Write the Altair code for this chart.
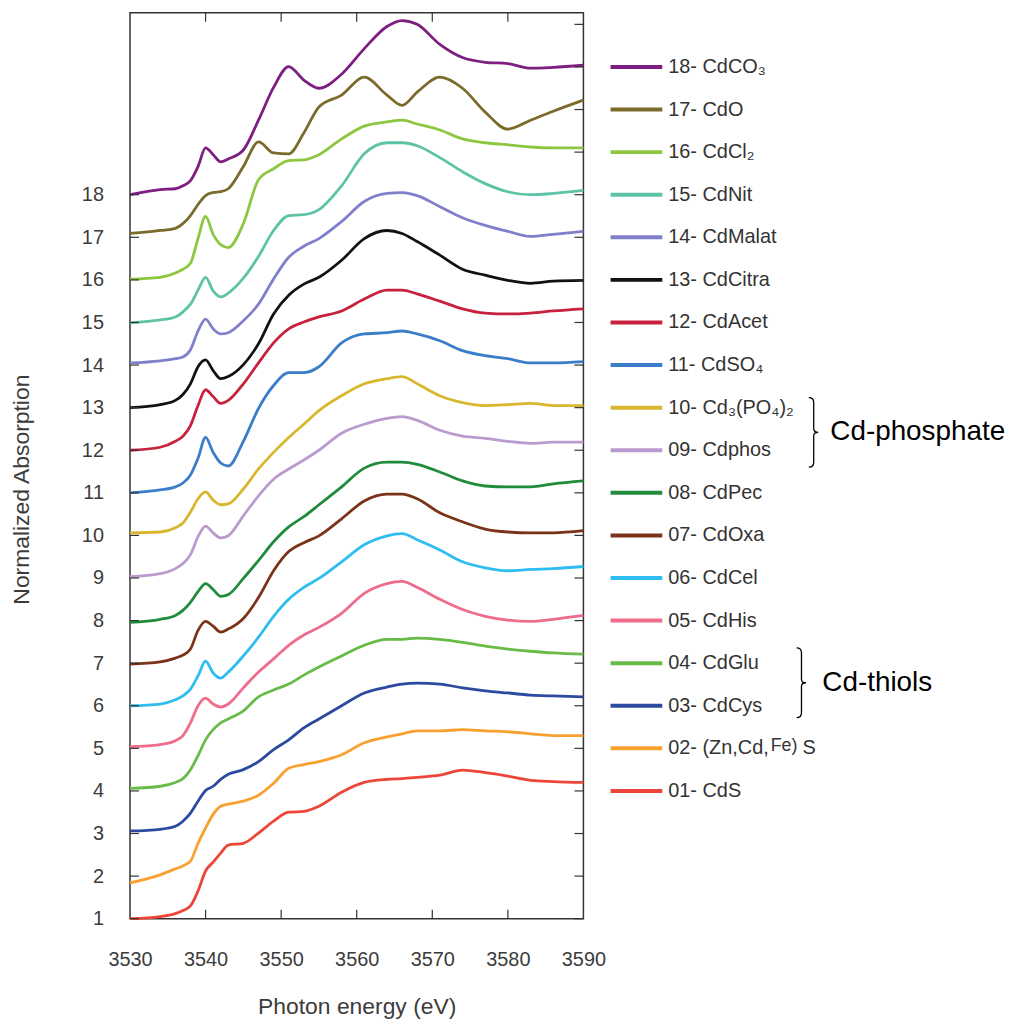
import altair as alt
import pandas as pd

FONT = "Liberation Sans, Arial, Helvetica, sans-serif"

# ---------------- data ----------------
ENERGY = [3530, 3534, 3536, 3537, 3538, 3539, 3540, 3541, 3542, 3543, 3545, 3547, 3549,
          3551, 3553, 3555, 3558, 3561, 3564, 3566, 3568, 3571, 3574, 3577, 3580, 3583, 3586, 3590]

CDS = [1.00, 1.05, 1.12, 1.19, 1.30, 1.65, 2.12, 2.33, 2.54, 2.73, 2.77, 3.01, 3.29, 3.50,
       3.52, 3.64, 3.97, 4.20, 4.27, 4.29, 4.32, 4.37, 4.49, 4.43, 4.35, 4.25, 4.22, 4.20]
ZNCDFES = [1.84, 2.03, 2.17, 2.24, 2.35, 2.77, 3.13, 3.45, 3.64, 3.69, 3.76, 3.90, 4.18, 4.53,
           4.62, 4.69, 4.85, 5.13, 5.27, 5.34, 5.41, 5.41, 5.44, 5.41, 5.39, 5.34, 5.30, 5.30]
CDCYS = [3.06, 3.10, 3.17, 3.29, 3.48, 3.76, 4.01, 4.11, 4.27, 4.39, 4.50, 4.69, 4.97, 5.20,
         5.48, 5.69, 6.00, 6.30, 6.44, 6.51, 6.53, 6.51, 6.42, 6.35, 6.30, 6.25, 6.23, 6.21]
CDGLU = [4.06, 4.11, 4.20, 4.29, 4.50, 4.83, 5.20, 5.44, 5.60, 5.69, 5.88, 6.21, 6.37, 6.51,
         6.72, 6.91, 7.17, 7.42, 7.56, 7.56, 7.59, 7.56, 7.49, 7.40, 7.33, 7.28, 7.24, 7.21]
CDHIS = [5.04, 5.09, 5.18, 5.30, 5.60, 6.00, 6.18, 6.04, 5.97, 6.04, 6.42, 6.79, 7.10, 7.42,
         7.66, 7.84, 8.17, 8.64, 8.87, 8.92, 8.78, 8.50, 8.26, 8.10, 8.01, 7.98, 8.03, 8.12]
CDCEL = [6.00, 6.04, 6.14, 6.23, 6.39, 6.70, 7.05, 6.77, 6.65, 6.79, 7.17, 7.61, 8.10, 8.50,
         8.78, 8.99, 9.38, 9.78, 9.99, 10.04, 9.90, 9.66, 9.38, 9.24, 9.17, 9.20, 9.22, 9.27]
CDOXA = [6.98, 7.03, 7.12, 7.19, 7.33, 7.77, 7.98, 7.87, 7.73, 7.80, 8.05, 8.54, 9.17, 9.62,
         9.83, 9.99, 10.39, 10.81, 10.97, 10.97, 10.86, 10.53, 10.32, 10.15, 10.08, 10.06, 10.06, 10.11]
CDPEC = [7.96, 8.03, 8.12, 8.24, 8.43, 8.68, 8.87, 8.73, 8.57, 8.61, 8.99, 9.41, 9.85, 10.20,
         10.44, 10.72, 11.14, 11.58, 11.72, 11.72, 11.67, 11.49, 11.28, 11.16, 11.14, 11.14, 11.21, 11.28]
CDPHOS = [9.03, 9.10, 9.22, 9.34, 9.55, 9.97, 10.22, 10.06, 9.94, 9.99, 10.46, 10.93, 11.32, 11.56,
          11.77, 12.00, 12.40, 12.61, 12.75, 12.79, 12.70, 12.47, 12.33, 12.28, 12.21, 12.16, 12.19, 12.19]
CD3PO42 = [10.06, 10.08, 10.18, 10.29, 10.55, 10.86, 11.02, 10.83, 10.72, 10.74, 11.09, 11.56, 11.95, 12.30,
           12.61, 12.93, 13.28, 13.56, 13.68, 13.73, 13.56, 13.28, 13.12, 13.05, 13.07, 13.10, 13.05, 13.05]
CDSO4 = [11.00, 11.07, 11.14, 11.23, 11.42, 11.81, 12.30, 11.95, 11.70, 11.63, 12.21, 12.98, 13.52, 13.82,
         13.82, 13.96, 14.52, 14.73, 14.76, 14.80, 14.73, 14.57, 14.34, 14.22, 14.15, 14.05, 14.05, 14.08]
CDACET = [12.00, 12.07, 12.21, 12.33, 12.58, 13.05, 13.42, 13.26, 13.10, 13.17, 13.56, 14.05, 14.52, 14.85,
          15.01, 15.13, 15.27, 15.55, 15.76, 15.76, 15.67, 15.50, 15.32, 15.22, 15.20, 15.22, 15.27, 15.32]
CDCITRA = [13.00, 13.07, 13.17, 13.31, 13.56, 13.96, 14.12, 13.87, 13.68, 13.73, 14.01, 14.50, 15.20, 15.64,
           15.90, 16.06, 16.46, 16.97, 17.16, 17.09, 16.90, 16.58, 16.25, 16.11, 15.99, 15.92, 15.97, 15.99]
CDMALAT = [14.05, 14.10, 14.15, 14.19, 14.36, 14.80, 15.08, 14.85, 14.73, 14.76, 15.04, 15.43, 16.02, 16.53,
           16.79, 16.97, 17.37, 17.84, 18.03, 18.05, 17.98, 17.72, 17.46, 17.28, 17.14, 17.02, 17.07, 17.14]
CDNIT = [14.99, 15.06, 15.13, 15.25, 15.43, 15.76, 16.06, 15.74, 15.60, 15.69, 16.04, 16.55, 17.16, 17.51,
         17.53, 17.65, 18.21, 18.96, 19.22, 19.22, 19.15, 18.87, 18.54, 18.26, 18.07, 18.00, 18.03, 18.10]
CDCL2 = [16.02, 16.06, 16.16, 16.25, 16.39, 16.97, 17.49, 17.07, 16.83, 16.76, 17.32, 18.35, 18.61, 18.80,
         18.82, 18.94, 19.31, 19.61, 19.71, 19.75, 19.66, 19.52, 19.31, 19.22, 19.17, 19.12, 19.10, 19.10]
CDO = [17.09, 17.16, 17.21, 17.32, 17.51, 17.77, 17.98, 18.05, 18.07, 18.14, 18.66, 19.24, 18.98, 18.96,
       19.45, 20.06, 20.34, 20.76, 20.34, 20.10, 20.41, 20.76, 20.50, 19.94, 19.54, 19.75, 19.96, 20.22]
CDCO3 = [18.00, 18.12, 18.14, 18.21, 18.33, 18.66, 19.10, 18.94, 18.77, 18.84, 19.05, 19.75, 20.52, 21.01,
         20.69, 20.50, 20.83, 21.43, 21.95, 22.09, 22.00, 21.53, 21.22, 21.11, 21.08, 20.97, 20.99, 21.04]

SERIES_IDS = ["01", "02", "03", "04", "05", "06", "07", "08", "09",
              "10", "11", "12", "13", "14", "15", "16", "17", "18"]
SERIES_VALUES = [CDS, ZNCDFES, CDCYS, CDGLU, CDHIS, CDCEL, CDOXA, CDPEC, CDPHOS,
                 CD3PO42, CDSO4, CDACET, CDCITRA, CDMALAT, CDNIT, CDCL2, CDO, CDCO3]
LEGEND_LABELS = ["01- CdS", "02- (Zn,Cd,", "03- CdCys", "04- CdGlu", "05- CdHis", "06- CdCel",
                 "07- CdOxa", "08- CdPec", "09- Cdphos", "10- Cd₃(PO₄)₂", "11- CdSO₄", "12- CdAcet",
                 "13- CdCitra", "14- CdMalat", "15- CdNit", "16- CdCl₂", "17- CdO", "18- CdCO₃"]
COLORS = ["#ec463a", "#f8a030", "#2c4a9f", "#67bb46", "#ef6c8a", "#2dbdf0", "#7a3318", "#1f8b3b",
          "#b99bd0", "#d8b72f", "#3a7dc8", "#c8213c", "#111111", "#7f7fcb", "#5dc3a7", "#8dc63f",
          "#7a6b2b", "#7d1e80"]

X_LABELS = [3530, 3540, 3550, 3560, 3570, 3580, 3590]
X_INNER_TICKS = [3540, 3550, 3560, 3570, 3580]
Y_LABELS = list(range(1, 19))
Y_RIGHT_TICKS = list(range(1, 23))
LEGEND_ROW_SHIFT = 3

GROUP_NAMES = ["Cd-phosphate", "Cd-thiols"]
GROUP_CENTERS = [12.42, 6.54]

# ---------------- tables ----------------
rows = []
for sid, vals in zip(SERIES_IDS, SERIES_VALUES):
    for e, v in zip(ENERGY, vals):
        rows.append({"series": sid, "energy": e, "absorption": v})
df = pd.DataFrame(rows)

leg_df = pd.DataFrame({
    "series": SERIES_IDS,
    "label": LEGEND_LABELS,
    "absorption": [int(s) + LEGEND_ROW_SHIFT for s in SERIES_IDS],
})

W, H = 456, 911
TICK = "#333333"
TEXT = "#3c3c3c"

x_scale = alt.Scale(domain=[3530, 3590], nice=False, zero=False)
y_scale = alt.Scale(domain=[1, 22.27], nice=False, zero=False)
color_scale = alt.Scale(domain=SERIES_IDS, range=COLORS)

X_AXIS = alt.Axis(values=X_LABELS, format="d", title="Photon energy (eV)",
                  labelPadding=31.5, labelFlush=False, labelOverlap=False,
                  titleY=77, titleBaseline="top")
Y_AXIS = alt.Axis(values=Y_LABELS, format="d", title="Normalized Absorption",
                  labelPadding=26.7, labelFlush=False, labelOverlap=False,
                  titleX=-97.4, titleY=479, titleBaseline="bottom", titleAngle=270)


def xenc():
    return alt.X("energy:Q", scale=x_scale, axis=X_AXIS)


def yenc():
    return alt.Y("absorption:Q", scale=y_scale, axis=Y_AXIS)


spectra = alt.Chart(df).mark_line(strokeWidth=2.8, interpolate="monotone").encode(
    x=xenc(), y=yenc(),
    color=alt.Color("series:N", scale=color_scale, legend=None),
)

yt = pd.DataFrame({"absorption": Y_LABELS})
yrt = pd.DataFrame({"absorption": Y_RIGHT_TICKS})
xt = pd.DataFrame({"energy": X_INNER_TICKS})

left_ticks = alt.Chart(yt).mark_rule(color=TICK, strokeWidth=1.2).encode(
    y=yenc(), x=alt.value(0), x2=alt.value(9))
right_ticks = alt.Chart(yrt).mark_rule(color=TICK, strokeWidth=1.2).encode(
    y=yenc(), x=alt.value(W - 9), x2=alt.value(W))
top_ticks = alt.Chart(xt).mark_rule(color=TICK, strokeWidth=1.2).encode(
    x=xenc(), y=alt.value(0), y2=alt.value(9))
bottom_ticks = alt.Chart(xt).mark_rule(color=TICK, strokeWidth=1.2).encode(
    x=xenc(), y=alt.value(H - 9), y2=alt.value(H))

legend_rules = alt.Chart(leg_df).mark_rule(strokeWidth=4, strokeCap="butt").encode(
    x=alt.value(483.3), x2=alt.value(535.3),
    y=yenc(),
    color=alt.Color("series:N", scale=color_scale, legend=None),
)
legend_text = alt.Chart(leg_df).mark_text(
    align="left", baseline="middle", font=FONT, fontSize=20, color="#333333"
).encode(
    x=alt.value(541.3),
    y=yenc(),
    text="label:N",
)

row02 = pd.DataFrame({"absorption": [2 + LEGEND_ROW_SHIFT]})
fe_text = alt.Chart(row02).mark_text(
    align="left", baseline="middle", font=FONT, fontSize=18, color="#333333", dy=-2, text="Fe)"
).encode(x=alt.value(644.3), y=yenc())
s_text = alt.Chart(row02).mark_text(
    align="left", baseline="middle", font=FONT, fontSize=20, color="#333333", text="S"
).encode(x=alt.value(676.3), y=yenc())

BRACE = "M -0.14 -1 Q 0 -1 0 -0.86 L 0 -0.1 Q 0 0 0.13 0 Q 0 0 0 0.1 L 0 0.86 Q 0 1 -0.14 1"

group_layers = []
for name, center, bx, tx in zip(GROUP_NAMES, GROUP_CENTERS, [687.6, 675.3], [704.3, 696.3]):
    gdf = pd.DataFrame({"absorption": [center], "name": [name]})
    group_layers.append(
        alt.Chart(gdf).mark_point(shape=BRACE, size=4900, filled=False, color="black",
                                  strokeWidth=1.3, opacity=1).encode(
            x=alt.value(bx), y=yenc())
    )
    group_layers.append(
        alt.Chart(gdf).mark_text(align="left", baseline="middle", font=FONT, fontSize=28,
                                 color="black").encode(
            x=alt.value(tx), y=yenc(), text="name:N")
    )

chart = alt.layer(
    spectra, left_ticks, right_ticks, top_ticks, bottom_ticks,
    legend_rules, legend_text, fe_text, s_text, *group_layers
).properties(
    width=W, height=H,
    autosize=alt.AutoSizeParams(type="none"),
    padding={"left": 122.7, "top": 2, "right": 427, "bottom": 101},
).configure_view(
    stroke="#333333", strokeWidth=1.5
).configure_axis(
    domain=False, ticks=False, tickSize=0, grid=False,
    labelFont=FONT, labelFontSize=20, labelColor=TEXT,
    titleFont=FONT, titleFontSize=23, titleColor=TEXT, titleFontWeight="normal",
)

chart.save("out.html", embed_options={"renderer": "svg", "actions": False})
